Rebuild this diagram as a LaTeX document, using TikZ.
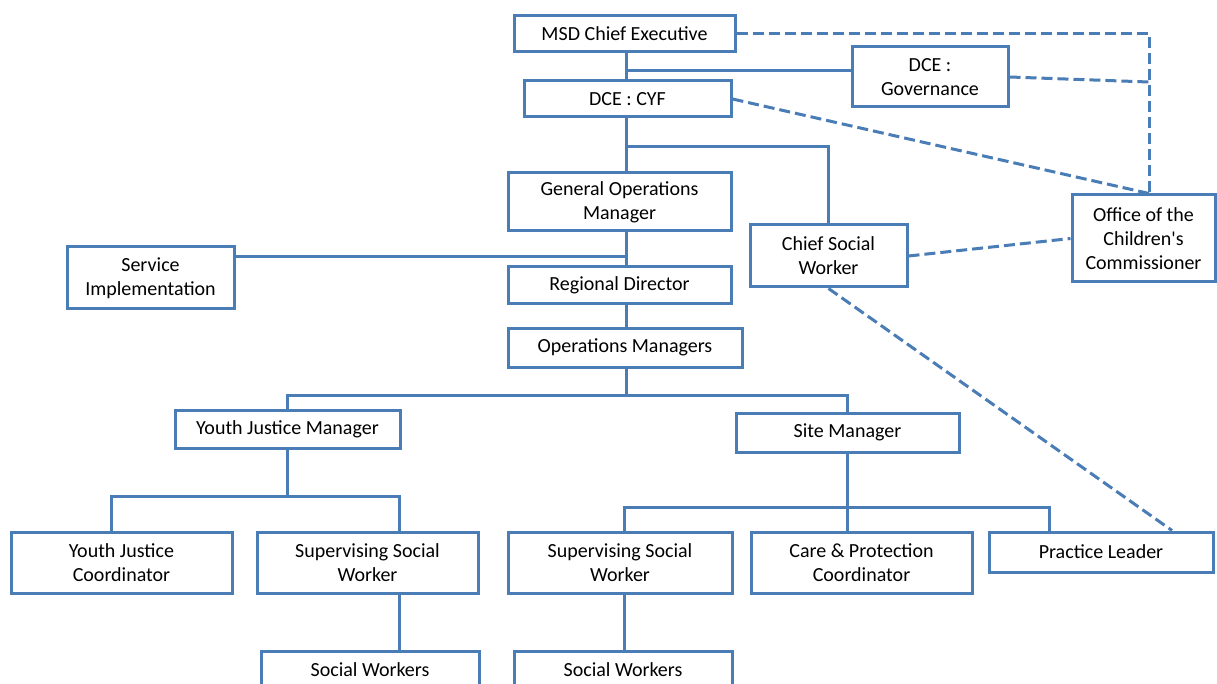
\documentclass[tikz,border=0pt]{standalone}
\usepackage{fontspec}
\setmainfont{Carlito}[Ligatures=TeXOff]
\definecolor{org}{RGB}{74,124,182}
\begin{document}
\begin{tikzpicture}[x=1pt,y=-1pt,
  box/.style={draw=org,line width=3pt,fill=white,rectangle,inner sep=0pt,align=center,
    font=\fontsize{20}{24}\selectfont},
  link/.style={draw=org,line width=3pt},
  dashline/.style={draw=org,line width=3pt,dash pattern=on 11pt off 5pt}]
\clip (0,0) rectangle (1217,684);
\fill[white] (0,0) rectangle (1217,684);
% nodes
\node[box,minimum width=221pt,minimum height=36pt] (msd) at (624.5,34) {MSD Chief Executive};
\node[box,minimum width=156pt,minimum height=60pt] (gov) at (930,77) {DCE :\\Governance};
\node[box,minimum width=207pt,minimum height=36pt] (cyf) at (627.5,99) {DCE : CYF};
\node[box,minimum width=223pt,minimum height=58pt] (gom) at (619.5,202) {General Operations\\Manager};
\node[box,minimum width=157pt,minimum height=62pt] (csw) at (828.5,256) {Chief Social\\Worker};
\node[box,minimum width=143pt,minimum height=87pt] (office) at (1143.5,238.5) {Office of the\\Children's\\Commissioner};
\node[box,minimum width=167pt,minimum height=62pt] (si) at (150.5,278) {Service\\Implementation};
\node[box,minimum width=223pt,minimum height=37pt] (rd) at (619.5,285.5) {Regional Director};
\node[box,minimum width=234pt,minimum height=39pt] (om) at (625,347.5) {Operations Managers};
\node[box,minimum width=225pt,minimum height=38pt] (yjm) at (287.5,429) {Youth Justice Manager};
\node[box,minimum width=223pt,minimum height=39pt] (sm) at (847.5,432.5) {Site Manager};
\node[box,minimum width=221pt,minimum height=61pt] (yjc) at (121.5,562.5) {Youth Justice\\Coordinator};
\node[box,minimum width=221pt,minimum height=61pt] (ssw1) at (367.5,562.5) {Supervising Social\\Worker};
\node[box,minimum width=224pt,minimum height=61pt] (ssw2) at (620,562.5) {Supervising Social\\Worker};
\node[box,minimum width=221pt,minimum height=61pt] (cp) at (861.5,562.5) {Care \& Protection\\Coordinator};
\node[box,minimum width=224pt,minimum height=40pt] (pl) at (1101,552) {Practice Leader};
\node[box,minimum width=218pt,minimum height=38pt] (sw1) at (370,670) {Social Workers};
\node[box,minimum width=218pt,minimum height=38pt] (sw2) at (623,670) {Social Workers};
% helper coordinates
\coordinate (trunk) at (626,0);
\coordinate (b1) at (626,71);
\coordinate (b2) at (626,147);
\coordinate (b3) at (626,257);
\coordinate (b4) at (626,395);
\coordinate (b5) at (289,496);
\coordinate (b6) at (847,507);
\coordinate (x1) at (111,0);
\coordinate (x2) at (399,0);
\coordinate (x3) at (624,0);
\coordinate (x4) at (1049,0);
\coordinate (x5) at (1149,0);
\coordinate (x6) at (1172,0);
\coordinate (d1) at (1149,82);
% solid connectors
\draw[link] (msd.south -| trunk) -- (cyf.north -| trunk);
\draw[link] (b1) -- (b1 -| gov.west);
\draw[link] (cyf.south -| trunk) -- (gom.north -| trunk);
\draw[link,line join=miter] (b2) -- (b2 -| csw.north) -- (csw.north);
\draw[link] (gom.south -| trunk) -- (rd.north -| trunk);
\draw[link] (si.east |- b3) -- (b3);
\draw[link] (rd.south -| trunk) -- (om.north -| trunk);
\draw[link] (om.south -| trunk) -- (b4);
\draw[link,line join=miter] (yjm.north) -- (yjm.north |- b4) -- (sm.north |- b4) -- (sm.north);
\draw[link] (yjm.south) -- (yjm.south |- b5);
\draw[link,line join=miter] (ssw1.north -| x2) -- (x2 |- b5) -- (x1 |- b5) -- (yjc.north -| x1);
\draw[link] (ssw1.south -| x2) -- (sw1.north -| x2);
\draw[link] (sm.south) -- (sm.south |- cp.north);
\draw[link,line join=miter] (ssw2.north -| x3) -- (x3 |- b6) -- (x4 |- b6) -- (pl.north -| x4);
\draw[link] (ssw2.south -| x3) -- (sw2.north -| x3);
% dashed connectors
\draw[dashline] (msd.east) -- (msd.east -| x5) -- (office.north -| x5);
\draw[dashline] (gov.east) -- (d1);
\draw[dashline] (cyf.east) -- (office.north -| x5);
\draw[dashline] (csw.east) -- (office.west);
\draw[dashline] (csw.south) -- (pl.north -| x6);
\end{tikzpicture}
\end{document}
